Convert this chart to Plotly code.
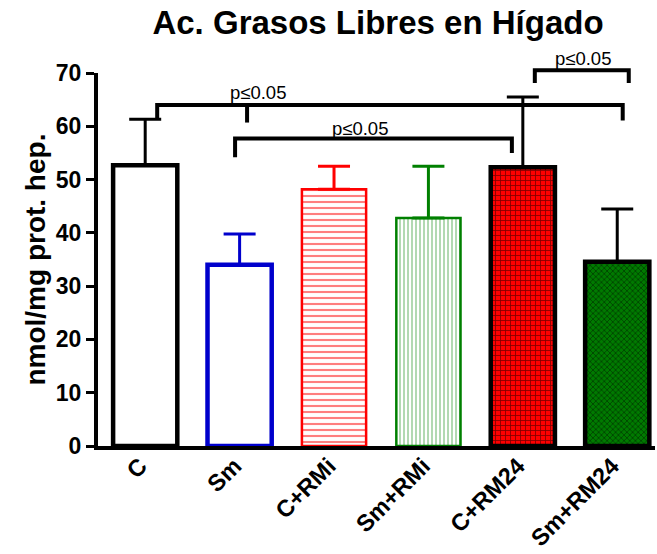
import plotly.graph_objects as go

# ---- data ----
categories = ["C", "Sm", "C+RMi", "Sm+RMi", "C+RM24", "Sm+RM24"]
means = [52.7, 34.0, 48.2, 42.8, 52.3, 34.6]
errors = [8.6, 5.8, 4.3, 9.7, 13.2, 9.9]
y_ticks = [0, 10, 20, 30, 40, 50, 60, 70]
sig_label = "p≤0.05"

# ---- styles ----
outline_colors = ["black", "#0000CC", "red", "green", "black", "black"]
outline_widths = [4.5, 4.5, 2.5, 2.5, 4.5, 4.5]
err_colors = ["black", "#0000CC", "red", "green", "black", "black"]
fills = ["white", "white", "white", "white", "red", "#007a00"]
pat_shapes = ["", "", "-", "|", "+", "x"]
pat_fg = ["black", "black", "red", "#66b366", "black", "black"]
pat_size = [8, 8, 6, 4, 5, 4]
pat_sol = [0.2, 0.2, 0.35, 0.5, 0.3, 0.35]

FONT = "Liberation Sans, Arial, sans-serif"
YMAX = 70.0

fig = go.Figure()
for i, cat in enumerate(categories):
    fig.add_trace(go.Bar(
        x=[cat], y=[means[i]],
        width=0.68,
        marker=dict(
            color=fills[i],
            line=dict(color=outline_colors[i], width=outline_widths[i]),
            pattern=dict(shape=pat_shapes[i], fgcolor=pat_fg[i], bgcolor=fills[i],
                         size=pat_size[i], solidity=pat_sol[i], fillmode="overlay"),
        ),
        error_y=dict(type="data", symmetric=False, array=[errors[i]], arrayminus=[0],
                     color=err_colors[i], thickness=3, width=16),
        showlegend=False,
        hoverinfo="skip",
    ))

# significance brackets: (x_left, x_right, y_line, y_left_end, y_right_end) in data units
brackets = [
    (0.127, 5.058, 64.0, 61.3, 61.1),
    (0.952, 3.884, 57.7, 54.2, 55.0),
    (4.127, 5.122, 70.5, 68.1, 68.1),
]
mid_ticks = [(1.079, 64.0, 60.7)]
labels = [(1.196, 66.3), (2.275, 59.6), (4.635, 72.7)]

LW = 4
for xl, xr, yl, ya, yb in brackets:
    fig.add_shape(type="path",
                  path=f"M {xl},{ya/YMAX} L {xl},{yl/YMAX} L {xr},{yl/YMAX} L {xr},{yb/YMAX}",
                  xref="x", yref="paper", line=dict(color="black", width=LW))
for xm, y0, y1 in mid_ticks:
    fig.add_shape(type="line", x0=xm, x1=xm, y0=y0 / YMAX, y1=y1 / YMAX,
                  xref="x", yref="paper", line=dict(color="black", width=LW))
for xl, yl in labels:
    fig.add_annotation(x=xl, y=yl / YMAX, xref="x", yref="paper", text=sig_label,
                       showarrow=False, font=dict(family=FONT, size=18.5, color="black"),
                       xanchor="center", yanchor="middle")

# y-axis title as annotation
fig.add_annotation(text="nmol/mg prot. hep.", x=-0.113, y=0.5, xref="paper", yref="paper",
                   textangle=-90, showarrow=False, xanchor="center", yanchor="middle",
                   font=dict(family=FONT, size=28, color="black", weight="bold"))

fig.update_layout(
    width=657, height=554,
    margin=dict(l=98, r=2, t=73, b=108, autoexpand=False),
    paper_bgcolor="white", plot_bgcolor="white",
    title=dict(text="Ac. Grasos Libres en Hígado", x=378 / 657, xref="container", xanchor="center",
               y=1 - 22 / 554, yref="container", yanchor="middle",
               font=dict(family=FONT, size=33, color="black", weight="bold")),
    font=dict(family=FONT, color="black"),
)
fig.update_xaxes(
    range=[-0.5, 5.4], showline=True, linecolor="black", linewidth=4,
    ticks="", tickangle=-45, showgrid=False, zeroline=False, automargin=False,
    ticklabelstandoff=-7, ticklabelshift=-5,
    tickfont=dict(family=FONT, size=23.5, color="black", weight="bold"),
)
fig.update_yaxes(
    range=[0, YMAX], tickvals=y_ticks, showline=True, linecolor="black", linewidth=4,
    ticks="outside", ticklen=8, tickwidth=3, tickcolor="black",
    showgrid=False, zeroline=False, automargin=False,
    tickfont=dict(family=FONT, size=23, color="black", weight="bold"),
)

fig.write_html("out.html")
